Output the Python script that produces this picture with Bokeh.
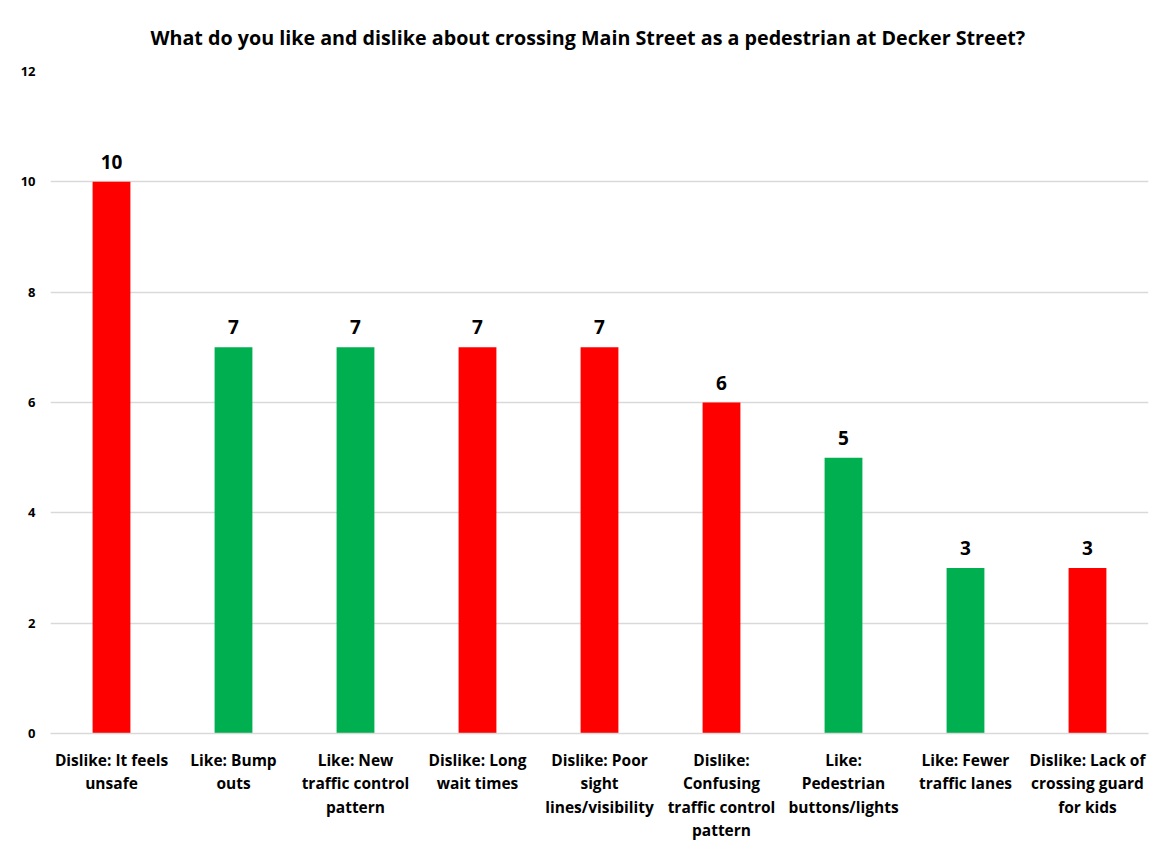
from bokeh.plotting import figure
from bokeh.models import ColumnDataSource, FactorRange, Range1d, FixedTicker
from bokeh.core.properties import value
from bokeh.embed import file_html
from bokeh.resources import INLINE

title_text = "What do you like and dislike about crossing Main Street as a pedestrian at Decker Street?"

tick_labels = [
    "Dislike: It feels\nunsafe",
    "Like: Bump\nouts",
    "Like: New\ntraffic control\npattern",
    "Dislike: Long\nwait times",
    "Dislike: Poor\nsight\nlines/visibility",
    "Dislike:\nConfusing\ntraffic control\npattern",
    "Like:\nPedestrian\nbuttons/lights",
    "Like: Fewer\ntraffic lanes",
    "Dislike: Lack of\ncrossing guard\nfor kids",
]
counts = [10, 7, 7, 7, 7, 6, 5, 3, 3]
sentiment = ["Dislike", "Like", "Like", "Dislike", "Dislike", "Dislike", "Like", "Like", "Dislike"]
y_ticks = [0, 2, 4, 6, 8, 10, 12]

color_map = {"Like": "#00B050", "Dislike": "#FF0000"}
FONT = "Open Sans"

src = ColumnDataSource(dict(
    x=tick_labels,
    top=counts,
    label=[str(c) for c in counts],
    color=[color_map[s] for s in sentiment],
))

p = figure(
    width=1153, height=844,
    x_range=FactorRange(factors=tick_labels, range_padding=0),
    y_range=Range1d(0, 12),
    output_backend="svg", toolbar_location=None,
    min_border_left=50, min_border_right=5, min_border_top=71, min_border_bottom=110,
    title=title_text,
)

p.vbar(x="x", top="top", width=0.31, color="color", source=src, line_color=None)
p.text(x="x", y="top", text="label", source=src, text_align="center",
       text_baseline="bottom", y_offset=-13, text_font=value(FONT),
       text_font_style="bold", text_font_size="19px", text_color="#000000")

p.title.align = "left"
p.title.vertical_align = "middle"
p.title.text_font = FONT
p.title.text_font_size = "19.7px"
p.title.text_font_style = "bold"
p.title.text_color = "#000000"
p.title.offset = 100
p.title.standoff = 40

p.outline_line_color = None
p.xgrid.grid_line_color = None
p.ygrid.grid_line_color = "#D9D9D9"
p.ygrid.grid_line_width = 1.5

p.yaxis.ticker = FixedTicker(ticks=y_ticks)
p.yaxis.axis_line_color = None
p.yaxis.major_tick_line_color = None
p.yaxis.minor_tick_line_color = None
p.yaxis.major_label_text_font = FONT
p.yaxis.major_label_text_font_style = "bold"
p.yaxis.major_label_text_font_size = "13px"
p.yaxis.major_label_text_color = "#000000"
p.yaxis.major_label_standoff = 9

p.xaxis.axis_line_color = "#D9D9D9"
p.xaxis.axis_line_width = 1.5
p.xaxis.major_tick_line_color = None
p.xaxis.minor_tick_line_color = None
p.xaxis.major_label_text_font = FONT
p.xaxis.major_label_text_font_style = "bold"
p.xaxis.major_label_text_font_size = "15.5px"
p.xaxis.major_label_text_line_height = 1.07
p.xaxis.major_label_text_color = "#000000"
p.xaxis.major_label_standoff = 9
p.xaxis.major_label_orientation = "horizontal"

open("out.html", "w").write(file_html(p, INLINE))
